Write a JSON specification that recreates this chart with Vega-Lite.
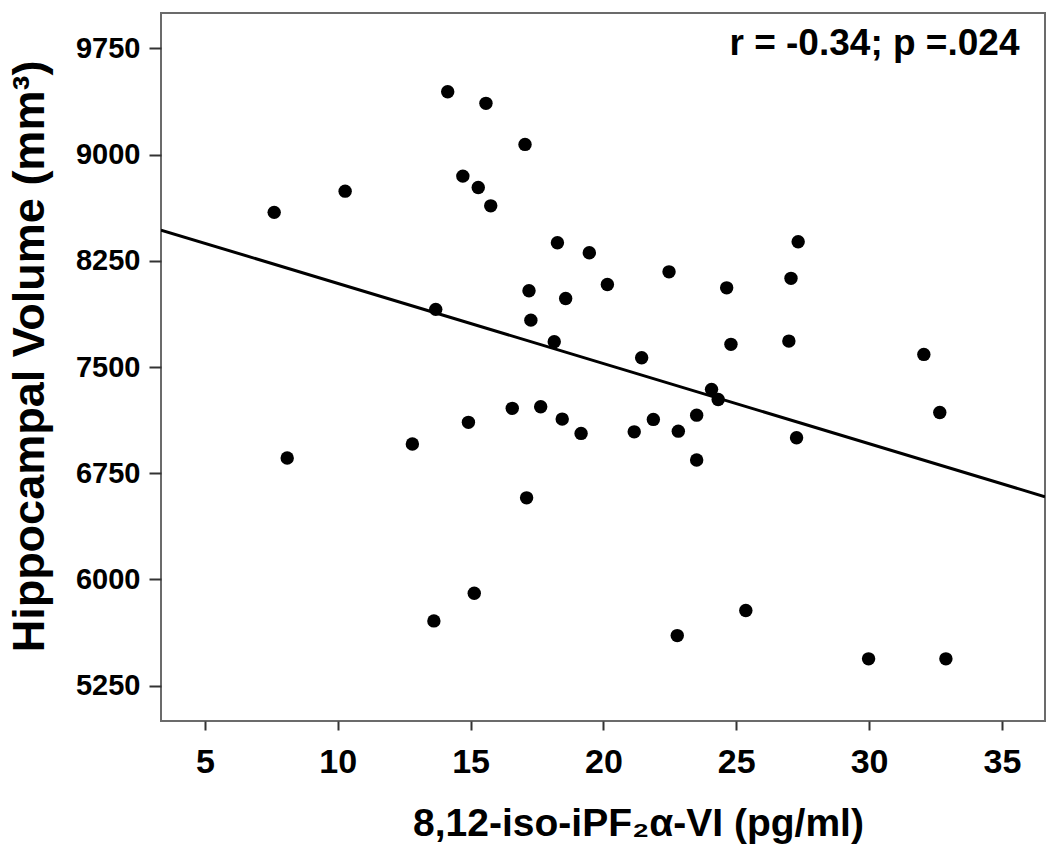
{
  "$schema": "https://vega.github.io/schema/vega-lite/v6.json",
  "width": 884,
  "height": 708,
  "autosize": {"type": "none"},
  "padding": {"left": 161, "top": 13, "right": 5, "bottom": 137},
  "background": "white",
  "config": {
    "view": {"stroke": "#6b6b6b", "strokeWidth": 2},
    "font": "Liberation Sans"
  },
  "datasets": {
    "points": [
      {"x": 7.61, "y": 8592}, {"x": 8.10, "y": 6857}, {"x": 10.28, "y": 8742},
      {"x": 14.14, "y": 9444}, {"x": 15.58, "y": 9362}, {"x": 17.05, "y": 9072},
      {"x": 14.71, "y": 8848}, {"x": 15.29, "y": 8768}, {"x": 15.76, "y": 8638},
      {"x": 18.27, "y": 8377}, {"x": 19.47, "y": 8307}, {"x": 17.20, "y": 8038},
      {"x": 18.58, "y": 7984}, {"x": 17.27, "y": 7831}, {"x": 18.15, "y": 7678},
      {"x": 13.69, "y": 7907}, {"x": 20.15, "y": 8083}, {"x": 22.47, "y": 8172},
      {"x": 24.64, "y": 8059}, {"x": 27.06, "y": 8126}, {"x": 27.33, "y": 8384},
      {"x": 21.44, "y": 7565}, {"x": 24.80, "y": 7660}, {"x": 26.98, "y": 7683},
      {"x": 32.06, "y": 7589}, {"x": 32.66, "y": 7179}, {"x": 24.07, "y": 7342},
      {"x": 24.32, "y": 7271}, {"x": 23.51, "y": 7160}, {"x": 21.88, "y": 7130},
      {"x": 21.16, "y": 7042}, {"x": 22.82, "y": 7047}, {"x": 23.51, "y": 6843},
      {"x": 27.27, "y": 7000}, {"x": 14.92, "y": 7109}, {"x": 16.57, "y": 7208},
      {"x": 17.64, "y": 7219}, {"x": 18.45, "y": 7132}, {"x": 19.16, "y": 7031},
      {"x": 12.81, "y": 6956}, {"x": 17.11, "y": 6576}, {"x": 13.62, "y": 5707},
      {"x": 15.14, "y": 5902}, {"x": 22.78, "y": 5603}, {"x": 25.36, "y": 5780},
      {"x": 29.98, "y": 5439}, {"x": 32.89, "y": 5439}
    ],
    "fit": [
      {"x": 3.35, "y": 8467},
      {"x": 36.62, "y": 6584}
    ]
  },
  "layer": [
    {
      "data": {"name": "fit"},
      "mark": {"type": "line", "color": "black", "strokeWidth": 3, "clip": true},
      "encoding": {
        "x": {
          "field": "x", "type": "quantitative",
          "scale": {"domain": [3.35, 36.62], "nice": false, "zero": false},
          "axis": {
            "values": [5, 10, 15, 20, 25, 30, 35],
            "grid": false, "domain": false,
            "tickColor": "#333333", "tickWidth": 2, "tickSize": 9,
            "labelFontSize": 34, "labelFontWeight": "bold", "labelColor": "black",
            "labelBaseline": "alphabetic", "labelPadding": 42, "labelFlush": false,
            "title": "8,12-iso-iPF₂α-VI (pg/ml)",
            "titleFontSize": 39, "titleFontWeight": "bold", "titleColor": "black",
            "titleX": 477, "titleY": 114, "titleBaseline": "alphabetic"
          }
        },
        "y": {
          "field": "y", "type": "quantitative",
          "scale": {"domain": [5000, 10000], "nice": false, "zero": false},
          "axis": {
            "values": [5250, 6000, 6750, 7500, 8250, 9000, 9750],
            "format": "d",
            "grid": false, "domain": false,
            "tickColor": "#333333", "tickWidth": 2, "tickSize": 12,
            "labelFontSize": 29, "labelFontWeight": "bold", "labelColor": "black",
            "labelPadding": 9,
            "title": "Hippocampal Volume (mm³)",
            "titleFontSize": 45, "titleFontWeight": "bold", "titleColor": "black",
            "titleX": -118, "titleY": 343, "titleBaseline": "alphabetic"
          }
        }
      }
    },
    {
      "data": {"name": "points"},
      "mark": {"type": "circle", "color": "black", "opacity": 1, "size": 180},
      "encoding": {
        "x": {"field": "x", "type": "quantitative"},
        "y": {"field": "y", "type": "quantitative"}
      }
    },
    {
      "data": {"values": [{"label": "r = -0.34; p =.024"}]},
      "mark": {"type": "text", "align": "right", "baseline": "alphabetic", "fontSize": 37, "fontWeight": "bold", "color": "black"},
      "encoding": {
        "x": {"datum": 35.66, "type": "quantitative"},
        "y": {"datum": 9700, "type": "quantitative"},
        "text": {"field": "label"}
      }
    }
  ]
}
